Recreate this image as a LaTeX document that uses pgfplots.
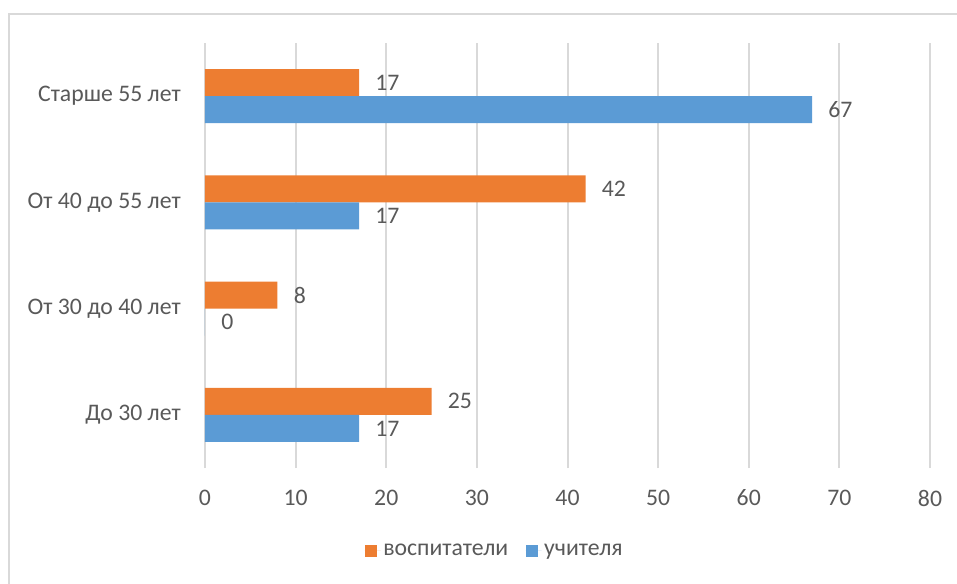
\documentclass[border=0pt]{standalone}
\usepackage{fontspec}
\setmainfont{Carlito}
\usepackage{pgfplots}
\pgfplotsset{compat=1.18}
\definecolor{orng}{HTML}{ED7D31}
\definecolor{blu}{HTML}{5B9BD5}
\definecolor{grd}{HTML}{D9D9D9}
\definecolor{txt}{HTML}{595959}
\begin{document}
\begin{tikzpicture}
\useasboundingbox (-153.75pt,-86.25pt) rectangle (564pt,351pt);
\draw[grd, line width=1.5pt] (-147pt,-100pt) -- (-147pt,340.5pt) -- (580pt,340.5pt);
\begin{axis}[
  at={(0pt,0pt)}, anchor=south west,
  scale only axis, width=543.75pt, height=318.75pt,
  xbar, bar width=20.25pt,
  xmin=0, xmax=80, ymin=-0.5, ymax=3.5,
  xtick={0,10,...,80},
  ytick={0,1,2,3},
  yticklabels={До 30 лет, От 30 до 40 лет, От 40 до 55 лет, Старше 55 лет},
  axis line style={draw=none},
  major tick length=0pt,
  xmajorgrids, grid style={grd, line width=1.5pt},
  /pgf/number format/assume math mode=true,
  ticklabel style={font=\fontsize{17.8}{21}\selectfont, text=txt},
  x tick label style={anchor=center, yshift=-22.5pt},
  y tick label style={anchor=east, inner sep=0pt, xshift=-18pt},
  nodes near coords,
  nodes near coords style={anchor=west, inner sep=0pt, xshift=12pt, font=\fontsize{17.8}{21}\selectfont, text=txt},
  legend style={at={(0.4,-0.195)}, anchor=center, draw=none, legend columns=2,
    font=\fontsize{17.8}{21}\selectfont, text=txt,
    /tikz/every even column/.append style={column sep=11pt}},
  every axis plot/.append style={legend image code/.code={\fill[##1] (0pt,-4.5pt) rectangle (9pt,4.5pt); \path (0pt,0pt) -- (12pt,0pt);}},
]
\addplot[fill=orng, draw=none, bar shift=10.125pt] coordinates {(25,0) (8,1) (42,2) (17,3)};
\addplot[fill=blu, draw=none, bar shift=-10.125pt] coordinates {(17,0) (0,1) (17,2) (67,3)};
\legend{воспитатели, учителя}
\end{axis}
\end{tikzpicture}
\end{document}
